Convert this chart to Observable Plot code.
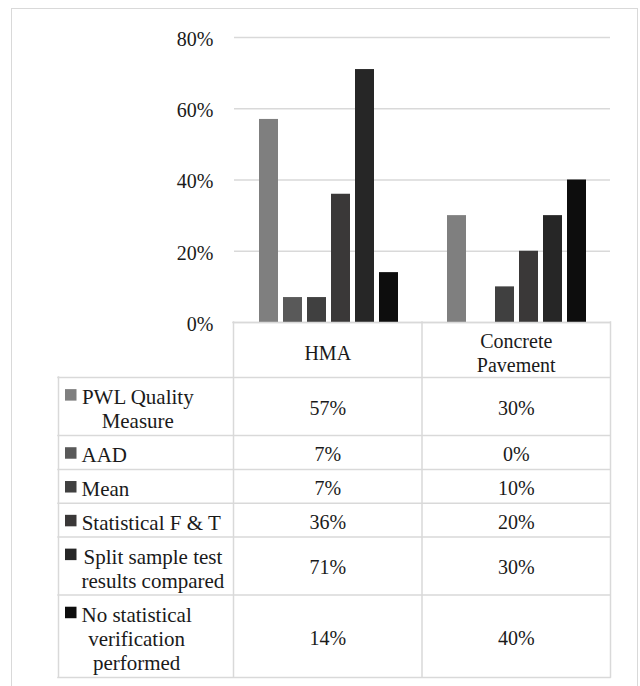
<!DOCTYPE html>
<html>
<head>
<meta charset="utf-8">
<script src="https://cdn.jsdelivr.net/npm/d3@7"></script>
<script src="https://cdn.jsdelivr.net/npm/@observablehq/plot@0.6"></script>
<style>
  html, body { margin: 0; padding: 0; background: #fff; }
  #frame { position: relative; width: 640px; height: 686px; overflow: hidden; }
  #frame::before {
    content: ""; position: absolute; left: 11px; top: 8px; right: 2px; bottom: -10px;
    border: 1px solid #d9d9d9;
  }
  #frame svg { display: block; position: relative; }
  #frame svg, #frame svg text, #frame svg tspan {
    font-family: "Liberation Serif", "DejaVu Serif", serif !important;
  }
</style>
</head>
<body>
<div id="frame"></div>
<script>
// Pavement types (columns) and verification methods (series)
const categories = ["HMA", "Concrete Pavement"];
const categoryLabels = ["HMA", "Concrete\nPavement"];
const series = [
  "PWL Quality\nMeasure",
  "AAD",
  "Mean",
  "Statistical F & T",
  "Split sample test\nresults compared",
  "No statistical\nverification\nperformed"
];
const hmaValues = [0.57, 0.07, 0.07, 0.36, 0.71, 0.14];
const concreteValues = [0.30, 0.00, 0.10, 0.20, 0.30, 0.40];
const yTicks = [0, 0.2, 0.4, 0.6, 0.8];
const seriesColors = ["#7f7f7f", "#595959", "#404040", "#3a3838", "#262626", "#0d0d0d"];

const valuesByCategory = [hmaValues, concreteValues];
const fmt = d3.format(".0%");
const ink = "#1a1a1a";
const ruleColor = "#d9d9d9";

const data = series.flatMap((s, i) =>
  categories.map((c, j) => ({category: c, series: s, value: valuesByCategory[j][i]}))
);

// Grouped bar chart
const chart = Plot.plot({
  width: 640,
  height: 322,
  marginLeft: 233,
  marginRight: 30,
  marginTop: 37,
  marginBottom: 0,
  style: {fontSize: "20px", color: ink, background: "none", overflow: "visible"},
  fx: {domain: categories, padding: 0, axis: null},
  x: {domain: series, paddingInner: 0.22, paddingOuter: 0.88, axis: null},
  y: {domain: [0, 0.8], label: null},
  color: {domain: series, range: seriesColors},
  marks: [
    Plot.gridY(yTicks, {stroke: ruleColor, strokeOpacity: 1, strokeWidth: 1.3}),
    Plot.axisY(yTicks, {tickSize: 0, tickPadding: 21, tickFormat: fmt, label: null, fontSize: 20, dy: 2, fill: ink}),
    Plot.barY(data.filter(d => d.value > 0), {fx: "category", x: "series", y: "value", fill: "series"})
  ]
});

// Data table below the chart, aligned to the chart's column (fx) scale
const fxd = chart.scale("fx");
const [c0, c1] = fxd.range;
const colW = (c1 - c0) / categories.length;
const colEdges = d3.range(categories.length + 1).map(i => c0 + i * colW);
const colMid = j => (colEdges[j] + colEdges[j + 1]) / 2;

const layout = {labelLeft: 58, headerH: 55, rowPad: 9.5, lineH: 24.3, keyLeft: 65, keySize: 11.5,
                textLeft: 81, fontSize: 20, labelFontSize: 21, dy: 2};

const ctx = document.createElement("canvas").getContext("2d");
ctx.font = `${layout.labelFontSize}px "Liberation Serif", "DejaVu Serif", serif`;

let yAcc = layout.headerH;
const rows = series.map((s, i) => {
  const lines = s.split("\n");
  const h = layout.rowPad + layout.lineH * lines.length;
  const r = {i, series: s, lines, y0: yAcc, y1: yAcc + h, yc: yAcc + h / 2,
             textW: d3.max(lines, l => ctx.measureText(l).width)};
  yAcc += h;
  return r;
});
const tableBottom = yAcc;
const right = colEdges[colEdges.length - 1];

const hLines = [
  {y: 0, x1: colEdges[0], x2: right},
  ...[layout.headerH, ...rows.map(r => r.y1)].map(y => ({y, x1: layout.labelLeft, x2: right}))
];
const vLines = [
  {x: layout.labelLeft, y1: layout.headerH, y2: tableBottom},
  ...colEdges.map(x => ({x, y1: 0, y2: tableBottom}))
];
const headers = categories.map((c, j) => ({x: colMid(j), y: layout.headerH / 2, text: categoryLabels[j]}));
const cells = rows.flatMap(r => categories.map((c, j) => ({x: colMid(j), y: r.yc, text: fmt(valuesByCategory[j][r.i])})));
const labels = rows.map(r => ({x: layout.textLeft + r.textW / 2, y: r.yc, text: r.series}));
const keys = rows.map(r => {
  const baseline = r.yc - (r.lines.length - 1) * layout.lineH / 2 + 0.32 * layout.labelFontSize + layout.dy;
  return {series: r.series, x1: layout.keyLeft, x2: layout.keyLeft + layout.keySize,
          y1: baseline - 2 - layout.keySize, y2: baseline - 2};
});

const textOpts = {x: "x", y: "y", text: "text", dy: layout.dy, fill: ink};
const table = Plot.plot({
  width: 640,
  height: 686 - 322,
  margin: 0,
  style: {fontSize: "20px", color: ink, background: "none", overflow: "visible"},
  x: {type: "identity", axis: null},
  y: {type: "identity", axis: null},
  color: {domain: series, range: seriesColors},
  marks: [
    Plot.ruleY(hLines, {y: "y", x1: "x1", x2: "x2", stroke: ruleColor, strokeWidth: 1.5, strokeLinecap: "square"}),
    Plot.ruleX(vLines, {x: "x", y1: "y1", y2: "y2", stroke: ruleColor, strokeWidth: 1.5, strokeLinecap: "square"}),
    Plot.rect(keys, {x1: "x1", x2: "x2", y1: "y1", y2: "y2", fill: "series"}),
    Plot.text(headers, {...textOpts, fontSize: layout.fontSize, lineHeight: layout.lineH / layout.fontSize}),
    Plot.text(cells, {...textOpts, fontSize: layout.fontSize}),
    Plot.text(labels, {...textOpts, fontSize: layout.labelFontSize, lineHeight: layout.lineH / layout.labelFontSize})
  ]
});

const frame = document.getElementById("frame");
frame.append(chart, table);
</script>
</body>
</html>
